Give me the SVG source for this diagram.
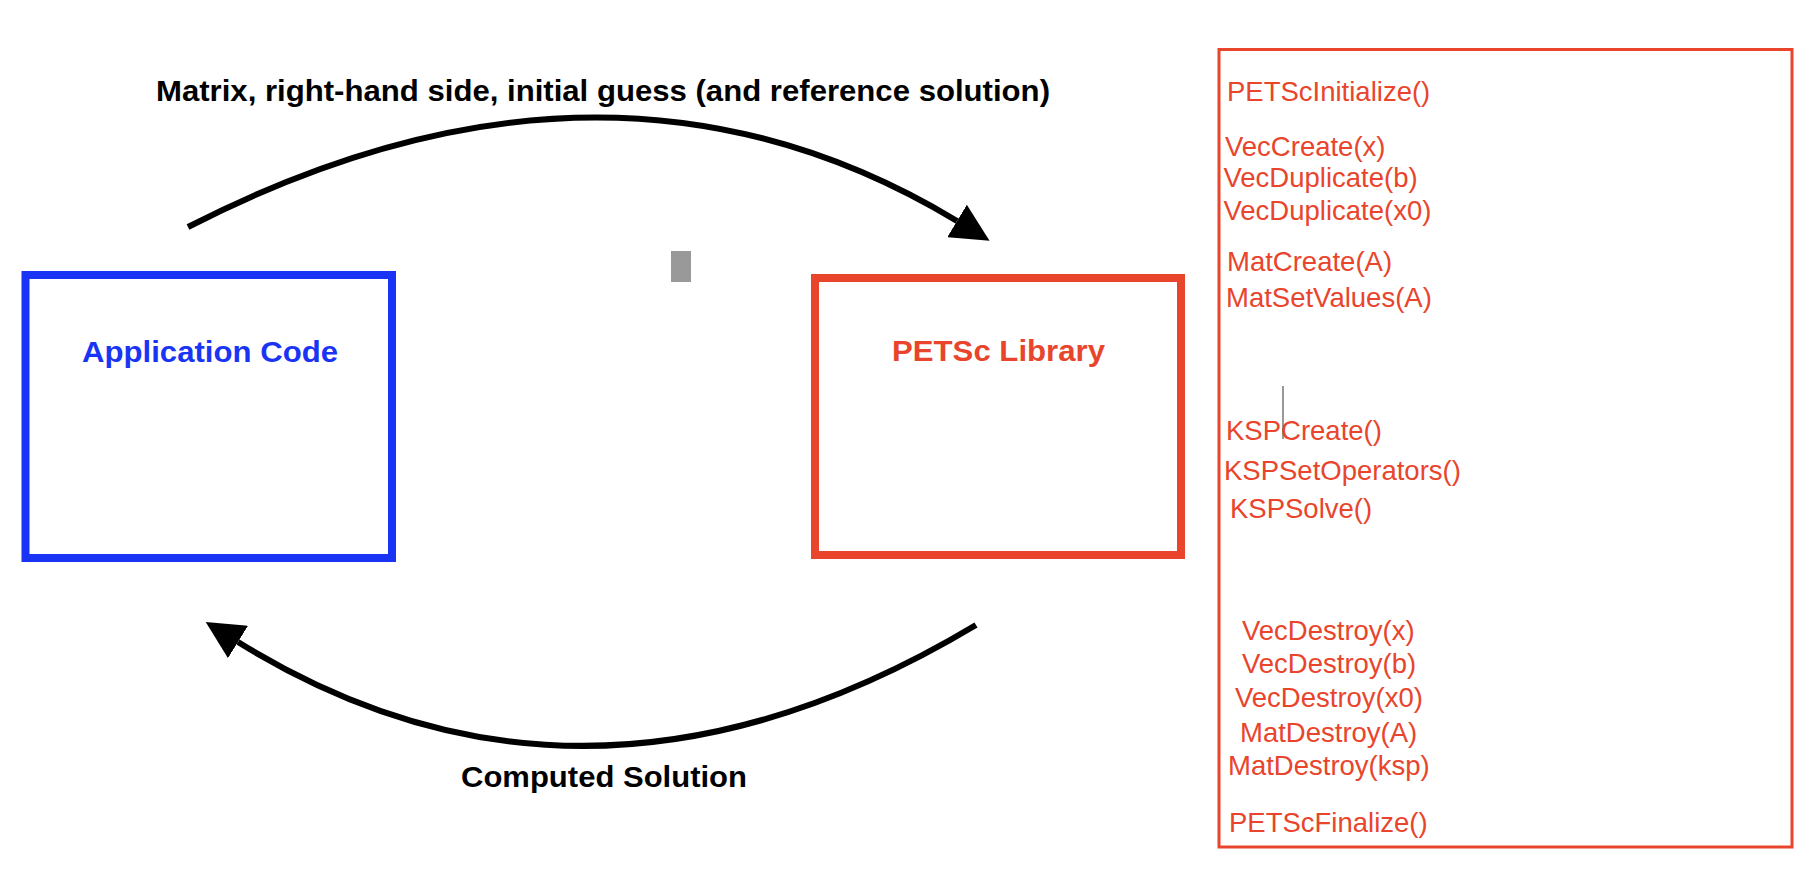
<svg xmlns="http://www.w3.org/2000/svg" width="1810" height="880" viewBox="0 0 1810 880">
<style>
.bold{font-family:"Liberation Sans",Arial,Helvetica,sans-serif;font-weight:bold;font-size:29px}
.api{font-family:"Liberation Sans",Arial,Helvetica,sans-serif;font-size:27.5px;fill:#e8452c}
.conn{fill:none;stroke:#000;stroke-width:6;stroke-linecap:butt}
</style>
<defs>
<marker id="ah" markerUnits="userSpaceOnUse" markerWidth="38" markerHeight="38" viewBox="0 0 37 37" refX="0" refY="18.5" orient="auto">
<path d="M0,0 L37,18.5 L0,37 z" fill="#000"/>
</marker>
</defs>
<rect width="1810" height="880" fill="#fff"/>
<g id="connectors">
<path class="conn" d="M188,227 Q609,11 957,221" marker-end="url(#ah)"/>
<path class="conn" d="M976,625 Q587,858 238,642" marker-end="url(#ah)"/>
<text class="bold" x="156" y="101" textLength="894" lengthAdjust="spacingAndGlyphs">Matrix, right-hand side, initial guess (and reference solution)</text>
<text class="bold" x="461" y="787" textLength="286" lengthAdjust="spacingAndGlyphs">Computed Solution</text>
</g>
<g id="app">
<rect x="25.5" y="275" width="366.5" height="283" fill="none" stroke="#1a34f5" stroke-width="8"/>
<text class="bold" x="82" y="362" fill="#1a34f5" textLength="256" lengthAdjust="spacingAndGlyphs">Application Code</text>
</g>
<g id="petsc">
<rect x="815" y="278" width="366" height="277" fill="none" stroke="#e8452c" stroke-width="8"/>
<text class="bold" x="892" y="361" fill="#e8452c" textLength="213" lengthAdjust="spacingAndGlyphs">PETSc Library</text>
</g>
<g id="marker-gray">
<rect x="671" y="251" width="20" height="31" fill="#999"/>
</g>
<g id="calls">
<rect x="1219" y="49.5" width="573" height="797.5" fill="none" stroke="#e8452c" stroke-width="3"/>
<line x1="1283" y1="386" x2="1283" y2="439" stroke="#999" stroke-width="2"/>
<text class="api" x="1227" y="101">PETScInitialize()</text>
<text class="api" x="1225" y="156">VecCreate(x)</text>
<text class="api" x="1223.5" y="187">VecDuplicate(b)</text>
<text class="api" x="1223.5" y="220">VecDuplicate(x0)</text>
<text class="api" x="1227" y="271">MatCreate(A)</text>
<text class="api" x="1226" y="307">MatSetValues(A)</text>
<text class="api" x="1226" y="440">KSPCreate()</text>
<text class="api" x="1224" y="480">KSPSetOperators()</text>
<text class="api" x="1230" y="518">KSPSolve()</text>
<text class="api" x="1242" y="640">VecDestroy(x)</text>
<text class="api" x="1242" y="673">VecDestroy(b)</text>
<text class="api" x="1235" y="707">VecDestroy(x0)</text>
<text class="api" x="1240" y="742">MatDestroy(A)</text>
<text class="api" x="1228" y="775">MatDestroy(ksp)</text>
<text class="api" x="1229" y="832">PETScFinalize()</text>
</g>
</svg>
